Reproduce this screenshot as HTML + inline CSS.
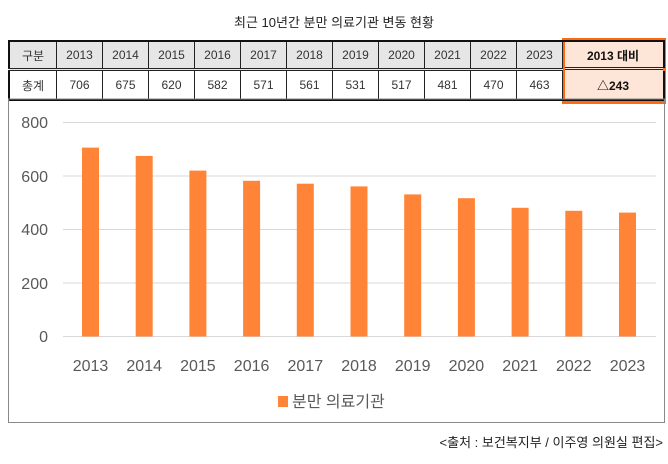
<!DOCTYPE html>
<html><head><meta charset="utf-8"><style>
body{margin:0;width:668px;height:464px;background:#fff;position:relative;overflow:hidden;font-family:"Liberation Sans","Noto Sans CJK KR",sans-serif;}
.t{position:absolute;left:0;width:668px;top:12px;text-align:center;font-size:13px;color:#222;}
table{position:absolute;left:8px;top:40px;border-collapse:collapse;font-size:12px;color:#333;}
td{border:1px solid #222;text-align:center;padding:0;}
tr.h td{background:#e6e6e6;height:26px;border-bottom:3px double #222;}
tr.b td{height:28px;}
.ob{position:absolute;left:562px;top:38px;width:98px;height:60px;border:3px solid #ff6a10;background:#fde6d8;}
.dl{position:absolute;left:565px;top:67px;width:98px;height:1px;border-top:1px solid #222;border-bottom:1px solid #222;}
</style></head><body>
<div class="t">최근 10년간 분만 의료기관 변동 현황</div>
<div class="ob"></div>
<div class="dl"></div>
<table style="border:2px solid #111">
<tr class="h"><td style="width:46px">구분</td><td style="width:45px">2013</td><td style="width:45px">2014</td><td style="width:45px">2015</td><td style="width:45px">2016</td><td style="width:45px">2017</td><td style="width:45px">2018</td><td style="width:45px">2019</td><td style="width:45px">2020</td><td style="width:45px">2021</td><td style="width:45px">2022</td><td style="width:45px">2023</td><td style="width:100px;background:transparent;border-color:transparent;font-weight:bold;color:#111;position:relative;z-index:2">2013 대비</td></tr>
<tr class="b"><td>총계</td><td>706</td><td>675</td><td>620</td><td>582</td><td>571</td><td>561</td><td>531</td><td>517</td><td>481</td><td>470</td><td>463</td><td style="border-color:transparent;font-weight:bold;color:#111;position:relative;z-index:2">△243</td></tr>
</table>
<svg style="position:absolute;left:0;top:0" width="668" height="464">
<rect x="8.5" y="99" width="656" height="323.5" fill="none" stroke="#888"/>
<g stroke="#d9d9d9" stroke-width="1">
<line x1="63" x2="656" y1="122.5" y2="122.5"/><line x1="63" x2="656" y1="176" y2="176"/><line x1="63" x2="656" y1="229.5" y2="229.5"/><line x1="63" x2="656" y1="283" y2="283"/><line x1="63" x2="656" y1="336.5" y2="336.5"/>
</g>
<g font-size="16" fill="#595959" text-anchor="end" font-family="Liberation Sans,sans-serif">
<text x="48" y="128">800</text><text x="48" y="182">600</text><text x="48" y="235">400</text><text x="48" y="289">200</text><text x="48" y="342">0</text>
</g>
<g fill="#ff8438">
<rect x="82" y="147.6" width="17" height="188.9"/>
<rect x="135.7" y="155.9" width="17" height="180.6"/>
<rect x="189.4" y="170.6" width="17" height="165.9"/>
<rect x="243.1" y="180.8" width="17" height="155.7"/>
<rect x="296.8" y="183.7" width="17" height="152.8"/>
<rect x="350.5" y="186.4" width="17" height="150.1"/>
<rect x="404.2" y="194.4" width="17" height="142.1"/>
<rect x="457.9" y="198.2" width="17" height="138.3"/>
<rect x="511.6" y="207.8" width="17" height="128.7"/>
<rect x="565.3" y="210.8" width="17" height="125.7"/>
<rect x="619" y="212.6" width="17" height="123.9"/>
</g>
<g font-size="16" fill="#595959" text-anchor="middle" font-family="Liberation Sans,sans-serif">
<text x="90.5" y="371">2013</text><text x="144.2" y="371">2014</text><text x="197.9" y="371">2015</text><text x="251.6" y="371">2016</text><text x="305.3" y="371">2017</text><text x="359" y="371">2018</text><text x="412.7" y="371">2019</text><text x="466.4" y="371">2020</text><text x="520.1" y="371">2021</text><text x="573.8" y="371">2022</text><text x="627.5" y="371">2023</text>
</g>
<rect x="278" y="396" width="10" height="11" fill="#ff8438"/>
<text x="292" y="407" font-size="16" fill="#595959" font-family="Liberation Sans,Noto Sans CJK KR,sans-serif">분만 의료기관</text>
<text x="663" y="447" font-size="13" fill="#222" text-anchor="end" font-family="Liberation Sans,Noto Sans CJK KR,sans-serif">&lt;출처 : 보건복지부 / 이주영 의원실 편집&gt;</text>
</svg>
</body></html>
